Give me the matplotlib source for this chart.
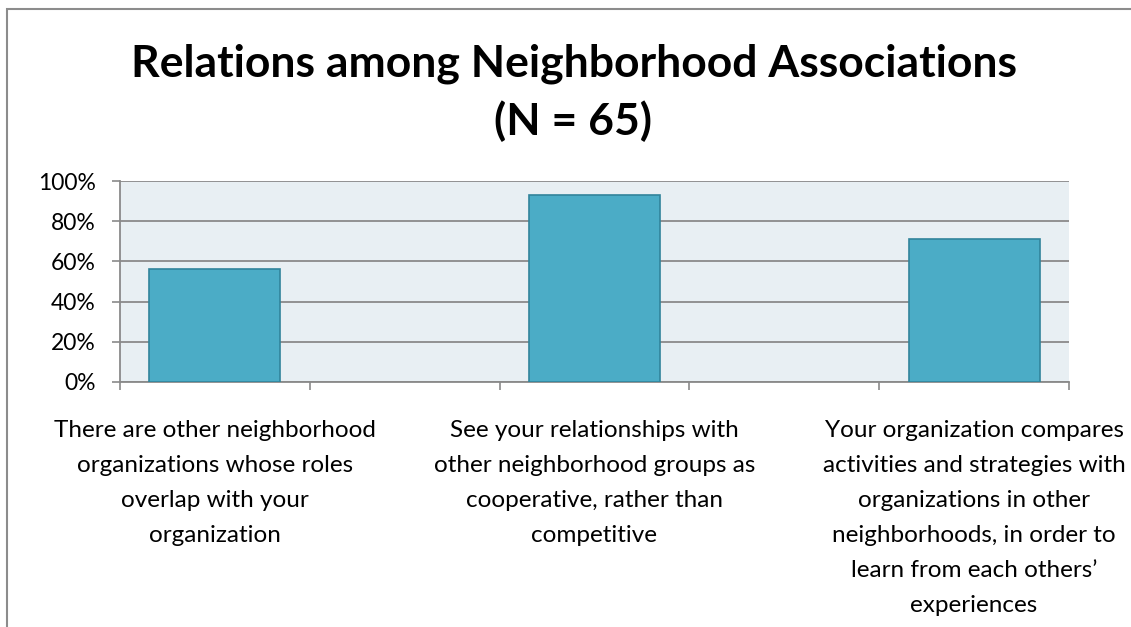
import numpy as np
import matplotlib
matplotlib.use('Agg')
import matplotlib.pyplot as plt
import matplotlib.ticker as ticker
from matplotlib.patches import Rectangle
from matplotlib.transforms import blended_transform_factory

# ---- data ----
categories = [
    ["There are other neighborhood", "organizations whose roles",
     "overlap with your", "organization"],
    ["See your relationships with", "other neighborhood groups as",
     "cooperative, rather than", "competitive"],
    ["Your organization compares", "activities and strategies with",
     "organizations in other", "neighborhoods, in order to",
     "learn from each others\u2019", "experiences"],
]
values = [0.56, 0.93, 0.71]
y_ticks = [0, 0.2, 0.4, 0.6, 0.8, 1.0]
title_lines = ["Relations among Neighborhood Associations", "(N = 65)"]

plt.rcParams['font.family'] = ['Lato', 'DejaVu Sans']

W, H = 1131, 627
fig = plt.figure(figsize=(W / 100, H / 100), dpi=100, facecolor='white')

# outer chart frame (runs off the right and bottom edges)
fig.patches.append(Rectangle((7 / W, -0.05), 1.1, 1.05 - 9 / H,
                             transform=fig.transFigure, fill=False,
                             edgecolor='#8c8c8c', linewidth=1.5))

ax = fig.add_axes([120 / W, 1 - 382 / H, 949 / W, 201 / H])
ax.set_facecolor('#E8EFF3')

# bars sit in every other slot (5 slots, 3 bars)
x = np.arange(len(values)) * 2
ax.bar(x, values, width=0.69, color='#4BACC6', edgecolor='#31849B',
       linewidth=1.2, zorder=3)

ax.set_xlim(-0.5, 2 * (len(values) - 1) + 0.5)
ax.set_ylim(0, 1.0)
ax.set_yticks(y_ticks)
ax.yaxis.set_major_formatter(ticker.PercentFormatter(1.0, decimals=0))
ax.set_xticks(np.arange(-0.5, 2 * (len(values) - 1) + 1, 1.0))
ax.set_xticklabels([])
ax.grid(axis='y', color='#8a8a8a', linewidth=1.3, zorder=1)
ax.set_axisbelow(True)

for s in ['top', 'right']:
    ax.spines[s].set_visible(False)
for s in ['left', 'bottom']:
    ax.spines[s].set_color('#8a8a8a')
    ax.spines[s].set_linewidth(1.3)
ax.tick_params(axis='both', direction='out', length=5.5, width=1.2,
               color='#8a8a8a')
ax.tick_params(axis='y', labelsize=16.5, pad=12, labelcolor='black')

# category labels under the axis, one line at a time
trans = blended_transform_factory(ax.transData, fig.transFigure)
for xi, lines in zip(x, categories):
    for i, line in enumerate(lines):
        ax.text(xi, 1 - (437 + 35 * i) / H, line, transform=trans,
                ha='center', va='baseline', fontsize=17.5, color='black')

fig.text(574 / W, 1 - 76 / H, title_lines[0], ha='center', va='baseline',
         fontsize=32, fontweight='bold', color='black')
fig.text(573 / W, 1 - 135 / H, title_lines[1], ha='center', va='baseline',
         fontsize=32, fontweight='bold', color='black')

fig.savefig('out.png', dpi=100, facecolor='white')
